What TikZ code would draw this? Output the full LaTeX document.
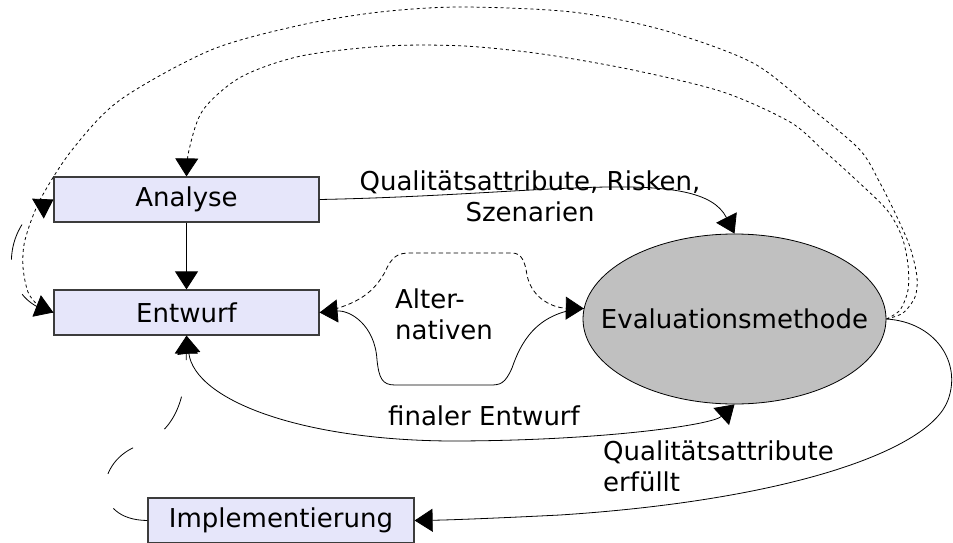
\documentclass[tikz,border=0pt]{standalone}
\usepackage{fontspec}
\setmainfont{DejaVu Sans}
\usetikzlibrary{arrows.meta,shapes.geometric}
\definecolor{boxfill}{RGB}{230,230,250}
\definecolor{boxline}{RGB}{60,60,60}
\definecolor{evalfill}{RGB}{192,192,192}
\begin{document}
\begin{tikzpicture}[x=1pt,y=-1pt,
  font=\fontsize{26}{31}\selectfont,
  stepbox/.style={draw=boxline, line width=1.2pt, fill=boxfill,
    minimum width=265pt, minimum height=45pt, inner sep=0pt},
  evalnode/.style={ellipse, draw, fill=evalfill, line width=0.8pt,
    minimum width=303pt, minimum height=170pt, inner sep=0pt},
  tip/.style={-{Triangle[length=18pt,width=23pt]}},
  bothtips/.style={{Triangle[length=18pt,width=23pt]}-{Triangle[length=18pt,width=23pt]}},
  flow/.style={line width=0.8pt},
  dotflow/.style={line width=0.8pt, dash pattern=on 3pt off 3pt},
  dashflow/.style={line width=0.8pt, dash pattern=on 4.5pt off 3pt},
  longdash/.style={line width=0.8pt, dash pattern=on 37pt off 37pt},
  label/.style={inner sep=0pt}
]
\useasboundingbox (0,0) rectangle (953,543);

% process steps
\node[stepbox] (an) at (186.5,199.5) {Analyse};
\node[stepbox] (en) at (186.5,312.5) {Entwurf};
\node[stepbox, minimum width=266pt] (im) at (281,520.5) {Implementierung};
% the text sits in a zero-width box so the ellipse keeps its given size
\node[evalnode] (ev) at (734.5,319) {\makebox[0pt]{Evaluationsmethode}};

% Analyse -> Entwurf
\draw[flow,tip] (an) -- (en);

% Analyse -> Evaluationsmethode
\draw[flow,tip] (an.east) .. controls (550,195) and (700,165) .. (ev.north);
\node[label, align=center] (qar) at (530,196) {Qualitätsattribute, Risken,\\Szenarien};

% alternatives loop between Entwurf and Evaluationsmethode
\draw[dashflow,tip] (en.east) .. controls (360,305) and (375,290) .. (385,272)
  .. controls (392,256) and (398,253) .. (410,253) -- (512,253)
  .. controls (522,253) and (525,262) .. (527,275)
  .. controls (532,300) and (555,308) .. (ev.176);
\draw[flow,tip] (ev.176) .. controls (535,312) and (520,345) .. (512,368)
  .. controls (505,384) and (500,385) .. (490,385) -- (395,385)
  .. controls (382,385) and (379,378) .. (377,360)
  .. controls (375,325) and (350,310) .. (en.east);
\node[label, align=left, anchor=west] (alt) at (395,314) {Alter-\\nativen};

% final design
\draw[flow,bothtips] (en.south) .. controls (195,400) and (300,440) .. (450,441)
  .. controls (600,441) and (712,425) .. (ev.south);
\node[label] (fin) at (484,416) {finaler Entwurf};

% quality attributes met -> Implementierung
\draw[flow,tip] (ev.east) .. controls (935,322) and (962,362) .. (948,400)
  .. controls (930,450) and (790,500) .. (560,515)
  .. controls (500,518) and (450,520) .. (im.east);
\node[label, align=left, anchor=west] (qae) at (603,466) {Qualitätsattribute\\erfüllt};

% feedback paths
\draw[longdash,tip] (im.west) .. controls (90,520) and (95,460) .. (140,445)
  .. controls (180,430) and (186,390) .. (en.south);
\draw[longdash,tip] (en.west) .. controls (-5,300) and (5,228) .. (an.west);

% revisions triggered by the evaluation
\draw[dotflow,tip] plot[smooth] coordinates {(ev.east) (900,310) (908,290) (908,265)
  (902,237) (887,210) (853,177) (823,150) (790,122) (723,92) (633,70) (542,54)
  (464,46) (386,46) (301,56) (241,77) (203,110) (189,150) (an.north)};
\draw[dotflow,tip] plot[smooth] coordinates {(ev.east) (903,313) (915,297) (917,277)
  (910,247) (897,217) (880,183) (860,150) (813,110) (753,63) (663,30) (572,12)
  (461,7) (380,12) (301,25) (211,50) (120,100) (72,150) (40,200) (25,240) (23,267)
  (28,292) (38,305) (en.west)};
\end{tikzpicture}
\end{document}
